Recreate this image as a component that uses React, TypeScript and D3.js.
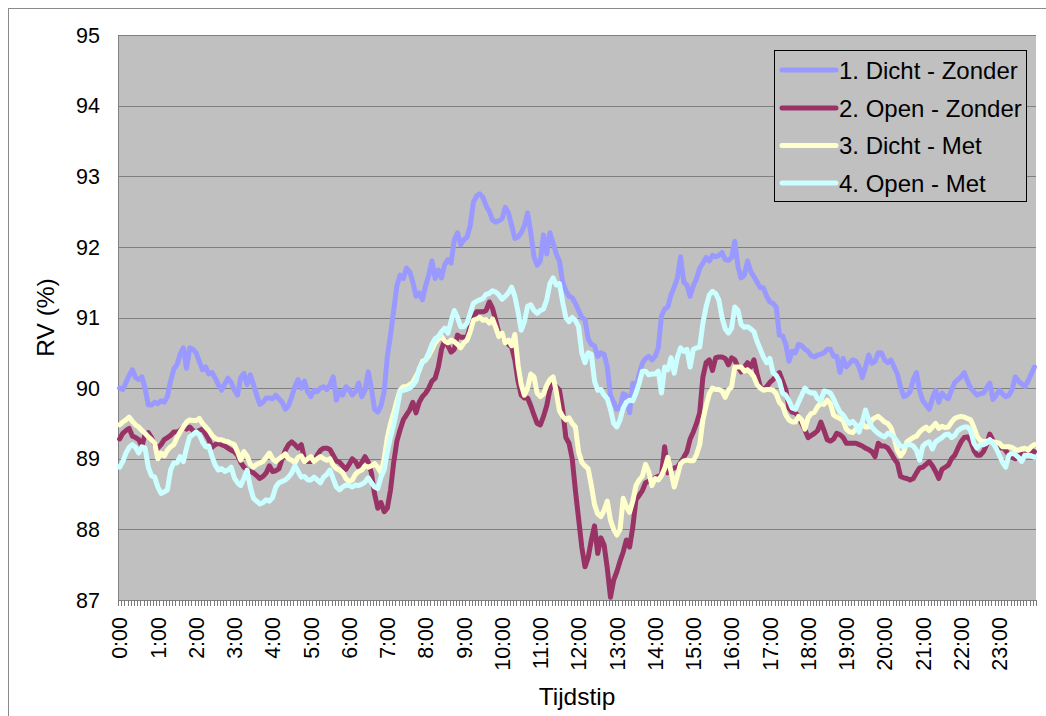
import React from "react";
import * as d3 from "d3";

// Relative humidity (RV %) per 5-minute step over one day, four configurations
const hourLabels = [
  "0:00", "1:00", "2:00", "3:00", "4:00", "5:00", "6:00", "7:00", "8:00", "9:00", "10:00", "11:00",
  "12:00", "13:00", "14:00", "15:00", "16:00", "17:00", "18:00", "19:00", "20:00", "21:00", "22:00", "23:00",
];

const categories: string[] = d3.range(288).map(
  (i) => `${Math.floor(i / 12)}:${String((i % 12) * 5).padStart(2, "0")}`
);

const yTicks = [87, 88, 89, 90, 91, 92, 93, 94, 95];

const dichtZonder = [
  90.0, 89.98, 90.08, 90.18, 90.26, 90.15, 90.12, 90.16, 90.0, 89.76, 89.76, 89.8,
  89.78, 89.82, 89.8, 89.88, 90.1, 90.27, 90.33, 90.48, 90.57, 90.28, 90.57, 90.55,
  90.5, 90.38, 90.26, 90.3, 90.2, 90.22, 90.14, 90.05, 89.97, 90.06, 90.14, 90.08,
  89.97, 89.9, 90.15, 90.21, 90.05, 90.19, 90.05, 89.9, 89.77, 89.8, 89.86, 89.86,
  89.85, 89.9, 89.85, 89.8, 89.7, 89.75, 89.88, 90.02, 90.12, 90.0, 90.1, 89.95,
  89.88, 89.97, 89.95, 90.0, 90.02, 89.98, 90.05, 90.16, 89.83, 89.95, 89.9, 90.02,
  89.98, 89.9, 89.95, 90.07, 89.88, 89.97, 90.23, 90.0, 89.7, 89.66, 89.75, 89.95,
  90.45, 90.75, 91.1, 91.45, 91.6, 91.55, 91.7, 91.65, 91.5, 91.3, 91.35, 91.25,
  91.45, 91.6, 91.8, 91.55, 91.67, 91.56, 91.75, 91.82, 91.77, 92.1, 92.2, 92.03,
  92.1, 92.14, 92.3, 92.63, 92.72, 92.75, 92.7, 92.58, 92.5, 92.38, 92.35, 92.37,
  92.4, 92.56, 92.48, 92.3, 92.12, 92.14, 92.2, 92.3, 92.48, 92.2, 91.86, 91.74,
  91.8, 92.17, 91.9, 92.2, 92.05, 91.9, 91.8, 91.5, 91.38, 91.3, 91.28, 91.2,
  91.1, 91.0, 90.97, 90.7, 90.62, 90.6, 90.45, 90.5, 90.48, 90.3, 89.9, 89.8,
  89.7, 89.72, 89.92, 89.9, 89.65, 90.07, 90.0, 90.2, 90.35, 90.42, 90.45, 90.4,
  90.45, 90.57, 91.02, 91.12, 91.15, 91.32, 91.43, 91.56, 91.86, 91.5, 91.46, 91.3,
  91.45, 91.55, 91.7, 91.77, 91.85, 91.8, 91.88, 91.86, 91.88, 91.92, 91.82, 91.81,
  91.85, 92.08, 91.72, 91.56, 91.6, 91.8, 91.65, 91.58, 91.5, 91.42, 91.42, 91.3,
  91.22, 91.2, 91.15, 90.75, 90.74, 90.62, 90.38, 90.52, 90.5, 90.62, 90.6, 90.55,
  90.52, 90.46, 90.44, 90.47, 90.48, 90.5, 90.55, 90.55, 90.45, 90.45, 90.22, 90.42,
  90.3, 90.35, 90.4, 90.38, 90.3, 90.15, 90.3, 90.47, 90.35, 90.38, 90.5, 90.5,
  90.4, 90.36, 90.4, 90.3, 90.2, 90.02, 89.88, 89.9, 89.95, 90.12, 90.22, 89.96,
  89.82, 89.76, 89.7, 89.85, 89.97, 89.8, 89.93, 89.88, 89.85, 89.97, 90.08, 90.12,
  90.16, 90.22, 90.1, 90.0, 89.95, 89.9, 89.92, 89.93, 90.0, 90.07, 89.84, 89.9,
  89.97, 89.92, 89.88, 89.9, 89.98, 90.16, 90.1, 90.06, 90.02, 90.1, 90.2, 90.3,
];

const openZonder = [
  89.28, 89.36, 89.4, 89.43, 89.32, 89.3, 89.27, 89.18, 89.35, 89.37, 89.3, 89.2,
  89.15, 89.2, 89.27, 89.3, 89.33, 89.38, 89.38, 89.4, 89.45, 89.42, 89.45, 89.4,
  89.38, 89.4, 89.42, 89.35, 89.27, 89.16, 89.2, 89.22, 89.2, 89.18, 89.15, 89.12,
  89.1, 89.05, 88.95, 88.88, 88.84, 88.82, 88.8, 88.76, 88.72, 88.75, 88.8, 88.9,
  88.82, 88.83, 88.86, 89.0, 89.12, 89.2, 89.24, 89.2, 89.15, 89.2, 89.0, 88.96,
  88.96, 88.96, 89.05, 89.12, 89.15, 89.15, 89.13, 89.05, 88.97, 88.95, 88.9, 88.85,
  88.92, 89.0, 88.96, 88.88, 88.95, 89.03, 88.95, 88.8, 88.5, 88.3, 88.38, 88.25,
  88.3, 88.56, 88.95, 89.25, 89.41, 89.55, 89.62, 89.69, 89.8, 89.65, 89.8, 89.88,
  89.93, 90.0, 90.1, 90.14, 90.3, 90.55, 90.68, 90.6, 90.51, 90.55, 90.75, 90.72,
  90.72, 90.72, 90.87, 90.99, 91.08, 91.08, 91.08, 91.1, 91.22, 91.13, 90.96, 90.78,
  90.73, 90.68, 90.62, 90.58, 90.4, 90.1, 89.9, 89.86, 89.86, 89.75, 89.62, 89.5,
  89.48, 89.6, 89.75, 89.98, 90.07, 90.02, 89.97, 89.7, 89.3, 89.22, 89.0, 88.55,
  88.15, 87.75, 87.47, 87.6, 87.85, 88.05, 87.66, 87.88, 87.78, 87.45, 87.04, 87.28,
  87.4, 87.55, 87.68, 87.85, 87.75, 88.03, 88.42, 88.48, 88.55, 88.66, 88.68, 88.7,
  88.73, 88.75, 88.77, 89.17, 88.8, 88.85, 88.87, 88.88, 88.95, 89.02, 89.1, 89.28,
  89.38, 89.5, 89.65, 90.16, 90.36, 90.4, 90.25, 90.43, 90.44, 90.44, 90.42, 90.33,
  90.43, 90.4, 90.3, 90.23, 90.3, 90.36, 90.3, 90.4, 90.2, 90.02, 89.98, 90.02,
  90.08, 90.12, 90.18, 90.22, 90.1, 89.98, 89.72, 89.66, 89.65, 89.6, 89.5, 89.41,
  89.3, 89.33, 89.36, 89.4, 89.52, 89.4, 89.27, 89.25, 89.28, 89.36, 89.34, 89.3,
  89.22, 89.22, 89.22, 89.22, 89.2, 89.18, 89.15, 89.13, 89.1, 89.03, 89.22, 89.18,
  89.18, 89.15, 89.08, 89.0, 88.94, 88.75, 88.73, 88.72, 88.7, 88.72, 88.8, 88.87,
  88.88, 88.92, 88.96, 88.9, 88.82, 88.72, 88.85, 88.88, 88.91, 89.0, 89.05, 89.15,
  89.24, 89.3, 89.31, 89.25, 89.12, 89.05, 89.05, 89.1, 89.2, 89.35, 89.26, 89.2,
  89.15, 89.16, 89.12, 89.05, 89.02, 89.0, 89.05, 89.06, 89.05, 89.1, 89.12, 89.1,
];

const dichtMet = [
  89.48, 89.52, 89.55, 89.59, 89.53, 89.48, 89.45, 89.4, 89.36, 89.31, 89.27, 89.22,
  89.0, 89.08, 89.04, 89.12, 89.17, 89.2, 89.3, 89.38, 89.45, 89.52, 89.55, 89.54,
  89.54, 89.57, 89.5, 89.45, 89.4, 89.33, 89.29, 89.27, 89.27, 89.25, 89.24, 89.22,
  89.2, 89.1, 88.98, 89.1, 89.04, 88.92, 88.88, 88.92, 88.94, 88.96, 89.02, 89.08,
  89.0, 88.96, 89.0, 89.03, 89.07, 89.0, 88.98, 88.94, 89.02, 89.04, 88.96, 89.0,
  89.03, 88.96, 89.0, 89.03, 89.0, 88.98, 89.0, 88.91, 88.86, 88.84, 88.8, 88.72,
  88.68, 88.7, 88.78, 88.82, 88.84, 88.9, 88.88, 88.9, 88.93, 88.88, 88.8, 89.0,
  89.3, 89.5, 89.65, 89.82, 89.97, 90.02, 90.02, 90.05, 90.08, 90.17, 90.25, 90.38,
  90.4, 90.46, 90.55, 90.64, 90.7, 90.73, 90.67, 90.64, 90.68, 90.66, 90.62, 90.57,
  90.64, 90.68, 90.8, 90.96, 90.98, 91.0, 90.96, 90.97, 90.92, 90.98, 90.86, 90.73,
  90.78, 90.64, 90.68, 90.6, 90.76, 90.33, 90.05, 89.9, 90.0, 90.2, 90.16, 89.93,
  89.88, 89.92, 90.04, 90.12, 90.16, 89.95, 89.68, 89.6, 89.55, 89.58, 89.5, 89.45,
  89.1, 88.95, 88.9, 88.86, 88.62, 88.35, 88.22, 88.18, 88.27, 88.4, 88.13, 88.0,
  87.92, 88.0, 88.44, 88.32, 88.24, 88.4, 88.62, 88.7, 88.75, 88.92, 88.82, 88.62,
  88.72, 88.7, 88.76, 88.86, 89.02, 88.82, 88.6, 88.76, 88.93, 88.97, 88.98, 88.97,
  88.97, 89.06, 89.2, 89.55, 89.75, 89.92, 90.0, 89.98, 89.98, 89.96, 89.87, 89.97,
  90.02, 90.3, 90.3, 90.3, 90.24, 90.26, 90.22, 90.16, 90.05, 90.0, 89.97, 89.98,
  89.98, 89.97, 89.92, 89.8, 89.75, 89.62, 89.55, 89.52, 89.52, 89.6, 89.55, 89.42,
  89.58, 89.64, 89.66, 89.74, 89.79, 89.77, 89.83, 89.78, 89.62, 89.59, 89.57, 89.54,
  89.42, 89.38, 89.37, 89.42, 89.46, 89.5, 89.45, 89.45, 89.55, 89.58, 89.6, 89.56,
  89.52, 89.5, 89.44, 89.3, 89.12, 89.04, 89.1, 89.24, 89.27, 89.3, 89.32, 89.38,
  89.42, 89.45, 89.4, 89.45, 89.5, 89.43, 89.46, 89.44, 89.45, 89.52, 89.57, 89.59,
  89.6, 89.59, 89.57, 89.55, 89.45, 89.32, 89.26, 89.24, 89.25, 89.24, 89.24, 89.23,
  89.22, 89.17, 89.17, 89.17, 89.16, 89.13, 89.12, 89.14, 89.15, 89.12, 89.17, 89.2,
];

const openMet = [
  88.88, 88.96, 89.08, 89.16, 89.2, 89.16, 89.08, 89.17, 89.15, 88.88, 88.76, 88.74,
  88.6, 88.51, 88.53, 88.56, 88.84, 88.94, 88.94, 89.03, 88.96, 89.15, 89.31, 89.34,
  89.38, 89.34, 89.24, 89.17, 89.18, 89.03, 88.91, 88.84, 88.86, 88.82, 88.84, 88.88,
  88.73, 88.66, 88.62, 88.72, 88.84, 88.6, 88.44, 88.4, 88.36, 88.38, 88.42, 88.4,
  88.45, 88.6, 88.66, 88.68, 88.7, 88.74, 88.8, 88.9, 88.82, 88.74, 88.75, 88.7,
  88.7, 88.74, 88.7, 88.66, 88.74, 88.78, 88.84, 88.72, 88.6, 88.56, 88.6, 88.63,
  88.62, 88.6, 88.63, 88.62, 88.64, 88.67, 88.73, 88.66, 88.6, 88.58, 88.74, 88.84,
  89.1, 89.31, 89.48, 89.7, 89.95, 89.97, 89.98, 90.0, 90.04, 90.1, 90.28, 90.36,
  90.4, 90.5, 90.62, 90.7, 90.73, 90.8, 90.85, 90.78, 90.95, 91.1, 91.0, 90.87,
  90.87, 90.92, 91.06, 91.2, 91.23, 91.25, 91.27, 91.33, 91.34, 91.38, 91.36, 91.32,
  91.26, 91.3, 91.35, 91.43, 91.3, 91.08, 90.82, 90.94, 91.16, 91.18, 91.1, 91.06,
  91.1, 91.12, 91.25, 91.48, 91.56, 91.46, 91.48, 91.22, 91.0, 90.94, 91.0, 90.96,
  90.87, 90.5, 90.36, 90.5, 90.48, 90.1, 89.97, 89.98, 89.9, 89.85, 89.7, 89.5,
  89.45, 89.55, 89.72, 89.8, 89.83, 89.82, 89.93, 90.07, 90.24, 90.24, 90.19, 90.2,
  90.2, 90.24, 89.93, 90.3, 90.26, 90.43, 90.21, 90.44, 90.57, 90.52, 90.55, 90.3,
  90.55, 90.57, 90.58, 90.92, 91.15, 91.32, 91.37, 91.34, 91.25, 91.0, 90.84, 90.78,
  90.85, 91.15, 91.1, 90.9, 90.86, 90.87, 90.84, 90.8, 90.66, 90.55, 90.44, 90.36,
  90.42, 90.22, 90.18, 90.1, 89.93, 89.9, 89.82, 89.72, 89.7, 89.8, 89.9, 90.0,
  89.95, 89.93, 89.93, 89.85, 89.82, 89.96, 89.95, 89.93, 89.85, 89.75, 89.66, 89.62,
  89.55, 89.5, 89.53, 89.48, 89.38, 89.52, 89.69, 89.55, 89.45, 89.4, 89.36, 89.33,
  89.31, 89.36, 89.34, 89.3, 89.24, 89.18, 89.17, 89.2, 89.2, 89.18, 89.12, 88.98,
  89.18, 89.22, 89.24, 89.14, 89.24, 89.27, 89.3, 89.34, 89.35, 89.3, 89.33, 89.4,
  89.43, 89.45, 89.45, 89.4, 89.22, 89.15, 89.2, 89.2, 89.22, 89.27, 89.22, 89.15,
  89.05, 88.95, 88.88, 89.05, 89.08, 89.06, 89.02, 88.96, 89.05, 89.05, 89.04, 89.02,
];

const seriesNames = ["1. Dicht - Zonder", "2. Open - Zonder", "3. Dicht - Met", "4. Open - Met"];
const seriesColors = ["#9999FF", "#993366", "#FFFFCC", "#CCFFFF"];
const seriesValues = [dichtZonder, openZonder, dichtMet, openMet];

const FONT = "'Liberation Sans', Arial, Helvetica, sans-serif";

export default function App() {
  const width = 1046;
  const height = 716;
  const plot = { left: 118, right: 1036, top: 35, bottom: 600 };

  const x = d3.scaleBand<string>().domain(categories).range([plot.left, plot.right]).padding(0);
  const y = d3.scaleLinear().domain([87, 95]).range([plot.bottom, plot.top]);
  const cx = (i: number) => (x(categories[i]) as number) + x.bandwidth() / 2;

  const line = d3
    .line<number>()
    .x((_, i) => cx(i))
    .y((d) => y(d))
    .curve(d3.curveLinear);

  const tickEdges = d3.range(categories.length + 1).map((i) =>
    i < categories.length ? (x(categories[i]) as number) : plot.right
  );

  const legend = { x: 774, y: 50, w: 252, h: 151 };
  const legendRowY = [70, 108, 145.5, 183];

  return (
    <svg
      width={width}
      height={height}
      style={{ position: "absolute", left: 0, top: 0, background: "#ffffff" }}
      fontFamily={FONT}
    >
      {/* chart frame */}
      <rect x={8.5} y={8.5} width={1100} height={800} fill="#ffffff" stroke="#8a8a8a" strokeWidth={1} />

      {/* plot area */}
      <rect
        x={plot.left}
        y={plot.top}
        width={plot.right - plot.left}
        height={plot.bottom - plot.top}
        fill="#C0C0C0"
      />

      {/* horizontal gridlines */}
      {yTicks.map((t) => (
        <line
          key={`g${t}`}
          x1={plot.left}
          x2={plot.right}
          y1={Math.round(y(t)) + 0.5}
          y2={Math.round(y(t)) + 0.5}
          stroke="#808080"
          strokeWidth={1}
        />
      ))}

      {/* plot borders: left axis and bottom axis */}
      <line x1={plot.left + 0.5} x2={plot.left + 0.5} y1={plot.top} y2={plot.bottom} stroke="#808080" />
      <line x1={plot.left} x2={plot.right} y1={plot.bottom + 0.5} y2={plot.bottom + 0.5} stroke="#808080" />

      {/* category tick marks */}
      {tickEdges.map((tx, i) => (
        <line
          key={`t${i}`}
          x1={Math.round(tx) + 0.5}
          x2={Math.round(tx) + 0.5}
          y1={plot.bottom}
          y2={plot.bottom + 6}
          stroke="#7a7a7a"
          strokeWidth={1}
        />
      ))}

      {/* y tick labels */}
      {yTicks.map((t) => (
        <text
          key={`yl${t}`}
          x={100}
          y={y(t)}
          dy="0.36em"
          textAnchor="end"
          fontSize={21.5}
          fill="#000"
        >
          {t}
        </text>
      ))}

      {/* x tick labels, one per hour */}
      {hourLabels.map((lab, h) => {
        const px = cx(h * 12);
        const py = 617;
        return (
          <text
            key={`xl${lab}`}
            transform={`translate(${px},${py}) rotate(-90)`}
            dy="0.36em"
            textAnchor="end"
            fontSize={21.5}
            fill="#000"
          >
            {lab}
          </text>
        );
      })}

      {/* axis titles */}
      <text x={(plot.left + plot.right) / 2} y={705} textAnchor="middle" fontSize={24.5} fill="#000">
        Tijdstip
      </text>
      <text
        transform={`translate(45,${(plot.top + plot.bottom) / 2}) rotate(-90)`}
        dy="0.36em"
        textAnchor="middle"
        fontSize={24.5}
        fill="#000"
      >
        RV (%)
      </text>

      {/* series lines */}
      {seriesValues.map((vals, s) => (
        <path
          key={`s${s}`}
          d={line(vals) ?? ""}
          fill="none"
          stroke={seriesColors[s]}
          strokeWidth={5}
          strokeLinejoin="round"
          strokeLinecap="round"
        />
      ))}

      {/* legend */}
      <rect
        x={legend.x + 0.5}
        y={legend.y + 0.5}
        width={legend.w}
        height={legend.h}
        fill="#C0C0C0"
        stroke="#000"
        strokeWidth={1}
      />
      {seriesNames.map((name, s) => (
        <g key={`lg${s}`}>
          <line
            x1={782}
            x2={836}
            y1={legendRowY[s]}
            y2={legendRowY[s]}
            stroke={seriesColors[s]}
            strokeWidth={5}
            strokeLinecap="round"
          />
          <text x={839} y={legendRowY[s]} dy="0.36em" fontSize={24} fill="#000">
            {name}
          </text>
        </g>
      ))}
    </svg>
  );
}
